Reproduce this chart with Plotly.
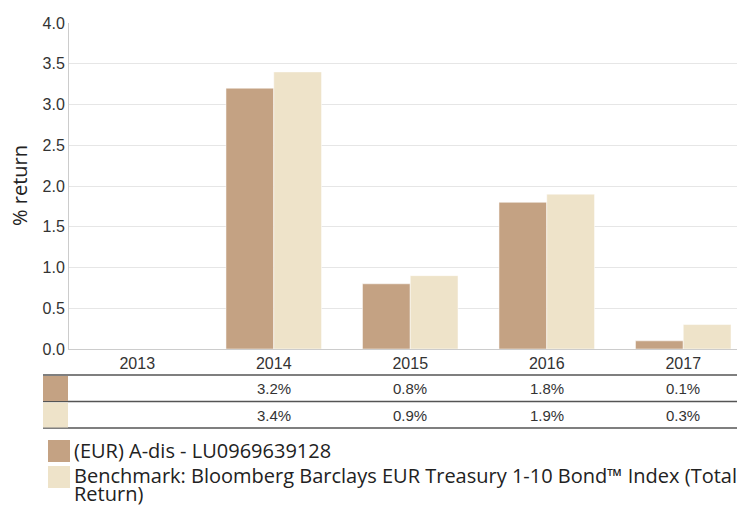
import plotly.graph_objects as go

years = ["2013", "2014", "2015", "2016", "2017"]
fund = [None, 3.2, 0.8, 1.8, 0.1]
bench = [None, 3.4, 0.9, 1.9, 0.3]
fund_name = "(EUR) A-dis - LU0969639128"
bench_name = "Benchmark: Bloomberg Barclays EUR Treasury 1-10 Bond™ Index (Total Return)"
y_ticks = [0.0, 0.5, 1.0, 1.5, 2.0, 2.5, 3.0, 3.5, 4.0]

BROWN = "#C4A283"
BEIGE = "#EEE3C9"

OFF = 8  # page body margin
W, H = 745 - OFF, 505 - OFF
L, T, B = 69 - OFF, 23 - OFF, 156
PH = H - T - B
PW = W - L


def py(screen_y):
    return (T + PH - (screen_y - OFF)) / PH


def px(screen_x):
    return ((screen_x - OFF) - L) / PW


fig = go.Figure()
fig.add_trace(go.Bar(x=years, y=fund, name=fund_name, marker=dict(color=BROWN, line=dict(color="white", width=0.5))))
fig.add_trace(go.Bar(x=years, y=bench, name=bench_name, marker=dict(color=BEIGE, line=dict(color="white", width=0.5))))

shapes = []
annotations = []

# table lines
for yy in [375, 401.5, 428]:
    shapes.append(dict(type="line", xref="paper", yref="paper", x0=px(43), x1=px(760), y0=py(yy), y1=py(yy),
                       line=dict(color="#555555", width=1.5)))
# table swatches
shapes.append(dict(type="rect", xref="paper", yref="paper", x0=px(43), x1=px(68), y0=py(376), y1=py(401),
                   fillcolor=BROWN, line=dict(width=0)))
shapes.append(dict(type="rect", xref="paper", yref="paper", x0=px(43), x1=px(68), y0=py(402.5), y1=py(427.5),
                   fillcolor=BEIGE, line=dict(width=0)))

table_font = dict(family="Liberation Sans, Arial", size=15, color="#333333")
for series, row_y in [(fund, 388.5), (bench, 415)]:
    for i, v in enumerate(series):
        if v is None:
            continue
        annotations.append(dict(x=i, xref="x", y=py(row_y), yref="paper", text=f"{v:.1f}%", showarrow=False,
                                font=table_font, xanchor="center", yanchor="middle"))

# y-axis title
annotations.append(dict(x=px(19), xref="paper", y=0.5, yref="paper", text="% return", textangle=-90,
                        showarrow=False, xanchor="center", yanchor="middle",
                        font=dict(family="Open Sans, Noto Sans", size=20, color="#222222")))

# legend
shapes.append(dict(type="rect", xref="paper", yref="paper", x0=px(48), x1=px(70), y0=py(440), y1=py(462),
                   fillcolor=BROWN, line=dict(width=0)))
shapes.append(dict(type="rect", xref="paper", yref="paper", x0=px(48), x1=px(70), y0=py(466), y1=py(488),
                   fillcolor=BEIGE, line=dict(width=0)))
legend_font = dict(family="Open Sans, Noto Sans", size=20, color="#222222")
words = bench_name.split(" ")
annotations.append(dict(x=px(72), xref="paper", y=py(450), yref="paper", text=fund_name, showarrow=False,
                        xanchor="left", yanchor="middle", font=legend_font))
annotations.append(dict(x=px(72), xref="paper", y=py(475), yref="paper", text=" ".join(words[:-1]), showarrow=False,
                        xanchor="left", yanchor="middle", font=legend_font))
annotations.append(dict(x=px(72), xref="paper", y=py(493), yref="paper", text=words[-1], showarrow=False,
                        xanchor="left", yanchor="middle", font=legend_font))

fig.update_layout(
    width=W, height=H,
    margin=dict(l=L, r=0, t=T, b=B),
    paper_bgcolor="white", plot_bgcolor="white",
    barmode="group", bargap=0.3, bargroupgap=0.0,
    showlegend=False,
    shapes=shapes, annotations=annotations,
    xaxis=dict(type="category", range=[-0.5, -0.5 + PW / 136.5], showgrid=False, showline=True,
               linecolor="#cccccc", linewidth=1, ticks="",
               tickfont=dict(family="Liberation Sans, Arial", size=16, color="#333333")),
    yaxis=dict(range=[0, 4], tickvals=y_ticks, ticktext=[f"{v:.1f}" for v in y_ticks],
               showgrid=True, gridcolor="#e6e6e6", gridwidth=1, zeroline=False,
               showline=True, linecolor="#cccccc", linewidth=1, ticks="",
               tickfont=dict(family="Liberation Sans, Arial", size=16, color="#333333")),
)

fig.write_html("out.html")
